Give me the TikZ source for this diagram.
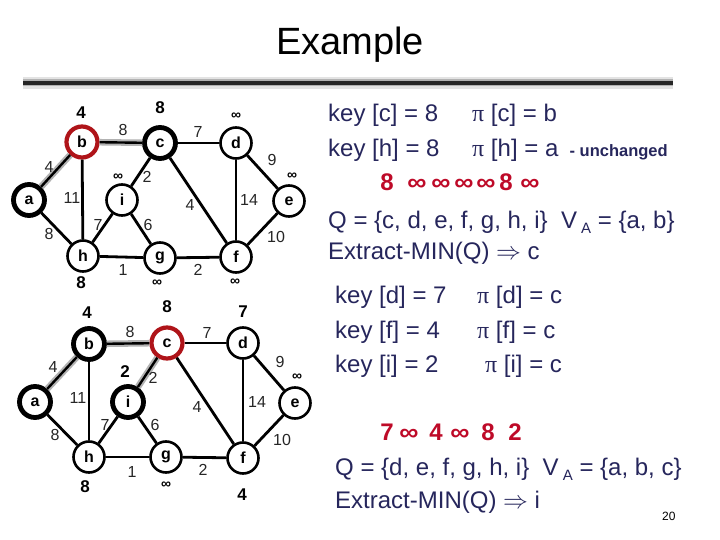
\documentclass[tikz,border=0pt]{standalone}
\usepackage{fontspec}
\setmainfont{Liberation Sans}
\newfontfamily\pifont{Liberation Serif}
\definecolor{navy}{RGB}{38,38,92}
\definecolor{hlred}{RGB}{175,20,25}
\definecolor{seqred}{RGB}{190,10,40}
\newcommand{\winf}{\scalebox{1.12}[1]{∞}}
\newcommand{\smallbold}{\fontsize{16.5}{18}\selectfont\bfseries}
\begin{document}
\begin{tikzpicture}[x=1pt,y=-1pt,
  vert/.style={circle, draw=black, line width=2.6pt, fill=white, minimum size=31pt, inner sep=0pt, font=\fontsize{16}{16}\selectfont\bfseries},
  thickv/.style={vert, line width=4.8pt},
  redv/.style={vert, draw=hlred, line width=4.2pt},
  edge/.style={line width=2.8pt},
  hl/.style={line width=2.4pt, preaction={draw=gray!60, line width=6.5pt}},
  wlab/.style={font=\fontsize{16}{16}\selectfont, text=black!85, inner sep=0pt},
  vlab/.style={font=\fontsize{17}{17}\selectfont\bfseries, inner sep=0pt},
  inflab/.style={font=\fontsize{14}{14}\selectfont\bfseries, inner sep=0pt},
  txt/.style={anchor=base west, inner sep=0pt, text=navy, font=\fontsize{24}{28}\selectfont},
  seq/.style={anchor=base, inner sep=0pt, text=seqred, font=\fontsize{24}{28}\selectfont\bfseries}
]
\fill[white] (0,0) rectangle (720,540);
\useasboundingbox (0,0) rectangle (720,540);

% title and rule
\node[inner sep=0pt, font=\fontsize{38}{42}\selectfont] (title) at (350,45) {Example};
\coordinate (rl) at (23,83);
\coordinate (rr) at (673,83);
\draw[line width=12pt, gray!22] (rl) -- (rr);
\draw[line width=7pt, gray!60] (rl) -- (rr);
\draw[line width=4pt, black!85] (rl) -- (rr);

% ---------- top graph ----------
\node[thickv] (Ta) at (29,200) {a};
\node[redv]   (Tb) at (82,142) {b};
\node[thickv] (Tc) at (160,143) {c};
\node[vert]   (Td) at (236,143) {d};
\node[vert]   (Te) at (289,201) {e};
\node[vert]   (Ti) at (122,200) {i};
\node[vert]   (Th) at (83,256) {h};
\node[vert]   (Tg) at (160,258) {g};
\node[vert]   (Tf) at (236,257) {f};

\draw[hl] (Ta) -- (Tb);
\draw[hl] (Tb) -- (Tc);
\draw[edge] (Tc) -- (Td);
\draw[edge] (Td) -- (Te);
\draw[edge] (Tb) -- (Th);
\draw[edge] (Tc) -- (Ti);
\draw[edge] (Tc) -- (Tf);
\draw[edge] (Td) -- (Tf);
\draw[edge] (Ta) -- (Th);
\draw[edge] (Th) -- (Ti);
\draw[edge] (Ti) -- (Tg);
\draw[edge] (Te) -- (Tf);
\draw[edge] (Th) -- (Tg);
\draw[edge] (Tg) -- (Tf);

\node[wlab] (tw1) at (49,167) {4};
\node[wlab] (tw2) at (123,130) {8};
\node[wlab] (tw3) at (198,132) {7};
\node[wlab] (tw4) at (272,160) {9};
\node[wlab] (tw5) at (72,198) {11};
\node[wlab] (tw6) at (147,177) {2};
\node[wlab] (tw7) at (190,205) {4};
\node[wlab] (tw8) at (249,200) {14};
\node[wlab] (tw9) at (49,234) {8};
\node[wlab] (tw10) at (98,225) {7};
\node[wlab] (tw11) at (148,225) {6};
\node[wlab] (tw12) at (276,237) {10};
\node[wlab] (tw13) at (123,270) {1};
\node[wlab] (tw14) at (198,270) {2};

\node[vlab] (tkb) at (81,113) {4};
\node[vlab] (tkc) at (160,108) {8};
\node[inflab] (tkd) at (236,116) {∞};
\node[inflab] (tke) at (292,176) {∞};
\node[inflab] (tki) at (118,177) {∞};
\node[vlab] (tkh) at (81,283) {8};
\node[inflab] (tkg) at (157,283) {∞};
\node[inflab] (tkf) at (235,282) {∞};

% ---------- bottom graph ----------
\node[thickv] (Ba) at (35,402) {a};
\node[thickv] (Bb) at (89,344) {b};
\node[redv]   (Bc) at (167,343) {c};
\node[vert]   (Bd) at (243,343) {d};
\node[vert]   (Be) at (295,403) {e};
\node[thickv] (Bi) at (128,402) {i};
\node[vert]   (Bh) at (89,457) {h};
\node[vert]   (Bg) at (166,457) {g};
\node[vert]   (Bf) at (243,458) {f};

\draw[hl] (Ba) -- (Bb);
\draw[hl] (Bb) -- (Bc);
\draw[hl] (Bc) -- (Bi);
\draw[edge] (Bc) -- (Bd);
\draw[edge] (Bd) -- (Be);
\draw[edge] (Bb) -- (Bh);
\draw[edge] (Bc) -- (Bf);
\draw[edge] (Bd) -- (Bf);
\draw[edge] (Ba) -- (Bh);
\draw[edge] (Bh) -- (Bi);
\draw[edge] (Bi) -- (Bg);
\draw[edge] (Be) -- (Bf);
\draw[edge] (Bh) -- (Bg);
\draw[edge] (Bg) -- (Bf);

\node[wlab] (bw1) at (53,367) {4};
\node[wlab] (bw2) at (130,332) {8};
\node[wlab] (bw3) at (207,333) {7};
\node[wlab] (bw4) at (280,362) {9};
\node[wlab] (bw5) at (78,398) {11};
\node[wlab] (bw6) at (153,378) {2};
\node[wlab] (bw7) at (197,407) {4};
\node[wlab] (bw8) at (257,402) {14};
\node[wlab] (bw9) at (55,435) {8};
\node[wlab] (bw10) at (105,425) {7};
\node[wlab] (bw11) at (155,425) {6};
\node[wlab] (bw12) at (282,440) {10};
\node[wlab] (bw13) at (132,472) {1};
\node[wlab] (bw14) at (203,470) {2};

\node[vlab] (bkb) at (87,313) {4};
\node[vlab] (bkc) at (167,307) {8};
\node[vlab] (bkd) at (243,312) {7};
\node[inflab] (bke) at (297,377) {∞};
\node[vlab] (bki) at (125,372) {2};
\node[vlab] (bkh) at (85,487) {8};
\node[inflab] (bkg) at (166,485) {∞};
\node[vlab] (bkf) at (242,495) {4};

% ---------- right text, upper ----------
\node[txt] (r1a) at (328,122) {key [c] = 8};
\node[txt] (r1b) at (472,122) {{\pifont π} [c] = b};
\node[txt] (r2a) at (328,157) {key [h] = 8};
\node[txt] (r2b) at (472,157) {{\pifont π} [h] = a {\smallbold\ - unchanged}};
\foreach \x/\c [count=\n] in {387/8, 417/\winf, 441/\winf, 464/\winf, 486/\winf, 506/8, 530/\winf}
  \node[seq] (s1\n) at (\x,191) {\c};
\node[txt] (r4) at (328,229) {Q = \{c, d, e, f, g, h, i\}\ \ V\raisebox{-5pt}{\fontsize{15}{15}\selectfont\ A} = \{a, b\}};
\node[txt] (r5) at (328,259) {Extract-MIN(Q) $\Rightarrow$ c};

% ---------- right text, lower ----------
\node[txt] (q1a) at (335,303) {key [d] = 7};
\node[txt] (q1b) at (477,303) {{\pifont π} [d] = c};
\node[txt] (q2a) at (335,338) {key [f] = 4};
\node[txt] (q2b) at (477,338) {{\pifont π} [f] = c};
\node[txt] (q3a) at (335,372) {key [i] = 2};
\node[txt] (q3b) at (485,372) {{\pifont π} [i] = c};
\foreach \x/\c [count=\n] in {387/7, 409/\winf, 436/4, 460/\winf, 488/8, 515/2}
  \node[seq] (s2\n) at (\x,440) {\c};
\node[txt] (q4) at (335,475) {Q = \{d, e, f, g, h, i\}\ \ V\raisebox{-5pt}{\fontsize{15}{15}\selectfont\ A} = \{a, b, c\}};
\node[txt] (q5) at (335,508) {Extract-MIN(Q) $\Rightarrow$ i};
\node[anchor=base west, inner sep=0pt, font=\fontsize{12}{12}\selectfont] (pg) at (662,520) {20};
\end{tikzpicture}
\end{document}
